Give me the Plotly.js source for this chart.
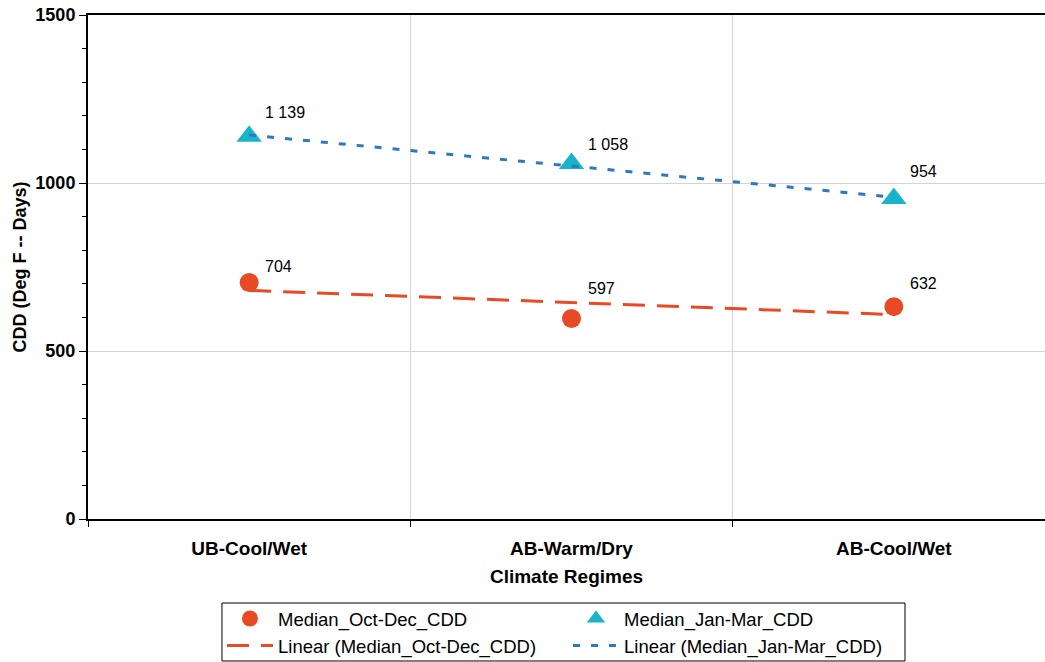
<!DOCTYPE html>
<html><head><meta charset="utf-8">
<script src="https://cdn.plot.ly/plotly-3.0.1.min.js"></script>
<style>html,body{margin:0;padding:0;background:#fff;overflow:hidden}</style>
</head><body><div id="chart" style="width:1045px;height:662px"></div>
<script>
const categories = ["UB-Cool/Wet", "AB-Warm/Dry", "AB-Cool/Wet"];
const octDec = [704, 597, 632];
const janMar = [1139, 1058, 954];
const octDecLabels = ["704", "597", "632"];
const janMarLabels = ["1 139", "1 058", "954"];

const xpos = categories.map((c, i) => i + 1);
function linfit(xs, ys) {
  const n = xs.length;
  const mx = xs.reduce((a, b) => a + b, 0) / n;
  const my = ys.reduce((a, b) => a + b, 0) / n;
  let sxy = 0, sxx = 0;
  for (let i = 0; i < n; i++) { sxy += (xs[i] - mx) * (ys[i] - my); sxx += (xs[i] - mx) ** 2; }
  const b = sxy / sxx, a = my - b * mx;
  return xs.map(x => a + b * x);
}
const ORANGE = "#E84A25", CYAN = "#19B4C9", BLUE = "#2F77BF";
const FONT = "Liberation Sans, Arial, sans-serif";

const traces = [
  {x: xpos, y: octDec, mode: "markers", name: "Median_Oct-Dec_CDD",
   marker: {symbol: "circle", size: 19, color: ORANGE}},
  {x: xpos, y: janMar, mode: "markers", name: "Median_Jan-Mar_CDD",
   marker: {symbol: "triangle-up", size: 22, color: CYAN}},
  {x: xpos, y: linfit(xpos, octDec), mode: "lines", name: "Linear (Median_Oct-Dec_CDD)",
   line: {color: ORANGE, width: 3, dash: "22px,12px"}},
  {x: xpos, y: linfit(xpos, janMar), mode: "lines", name: "Linear (Median_Jan-Mar_CDD)",
   line: {color: BLUE, width: 3, dash: "7px,11px"}}
];

const odShift = [16, 30, 23];
const jmShift = [24, 19, 27];
const annotations = [];
xpos.forEach((x, i) => {
  annotations.push({x: x, y: octDec[i], xref: "x", yref: "y", text: octDecLabels[i], showarrow: false,
    xanchor: "left", yanchor: "middle", xshift: 14, yshift: odShift[i], font: {size: 16, color: "#000", family: FONT}});
  annotations.push({x: x, y: janMar[i], xref: "x", yref: "y", text: janMarLabels[i], showarrow: false,
    xanchor: "left", yanchor: "middle", xshift: 14, yshift: jmShift[i], font: {size: 16, color: "#000", family: FONT}});
});

const layout = {
  width: 1045, height: 662,
  margin: {l: 88, r: 0, t: 15, b: 143, autoexpand: false},
  paper_bgcolor: "#fff", plot_bgcolor: "#fff",
  font: {family: FONT, color: "#000"},
  showlegend: true,
  legend: {orientation: "h", x: 0.14, xanchor: "left", y: -0.1607, yanchor: "top",
    bgcolor: "rgba(0,0,0,0)", borderwidth: 0, font: {size: 18.5, family: FONT},
    entrywidth: 285, itemwidth: 46, traceorder: "normal", tracegroupgap: 0},
  shapes: [{type: "rect", xref: "paper", yref: "paper", x0: 0.140, x1: 0.8537, y0: -0.1667, y1: -0.2817,
    line: {color: "#000", width: 1}, fillcolor: "rgba(0,0,0,0)", layer: "below"}],
  xaxis: {
    range: [0.5, 3.469], tickmode: "array", tickvals: xpos, ticktext: categories,
    ticks: "", showgrid: false, zeroline: false,
    showline: true, linecolor: "#000", linewidth: 2, mirror: true,
    tickfont: {size: 19, family: FONT, weight: "bold"},
    ticklabelstandoff: 11,
    minor: {tickmode: "linear", tick0: 0.5, dtick: 1, ticks: "outside", ticklen: 6, tickcolor: "#000", tickwidth: 1,
      showgrid: true, gridcolor: "#d4d4d4", gridwidth: 1},
    title: {text: "Climate Regimes", font: {size: 19, family: FONT, weight: "bold"}, standoff: 12}
  },
  yaxis: {
    range: [0, 1500], tickmode: "linear", tick0: 0, dtick: 500,
    ticks: "outside", ticklen: 7, tickcolor: "#000", tickwidth: 1,
    showgrid: true, gridcolor: "#d4d4d4", gridwidth: 1, zeroline: false,
    showline: true, linecolor: "#000", linewidth: 2,
    tickfont: {size: 18, family: FONT, weight: "bold"},
    minor: {tick0: 0, dtick: 100, ticks: "outside", ticklen: 4, tickcolor: "#000", showgrid: false},
    title: {text: "CDD (Deg F -- Days)", font: {size: 18, family: FONT, weight: "bold"}, standoff: 4}
  },
  annotations: annotations
};
Plotly.newPlot("chart", traces, layout, {displayModeBar: false, staticPlot: true});
</script></body></html>
